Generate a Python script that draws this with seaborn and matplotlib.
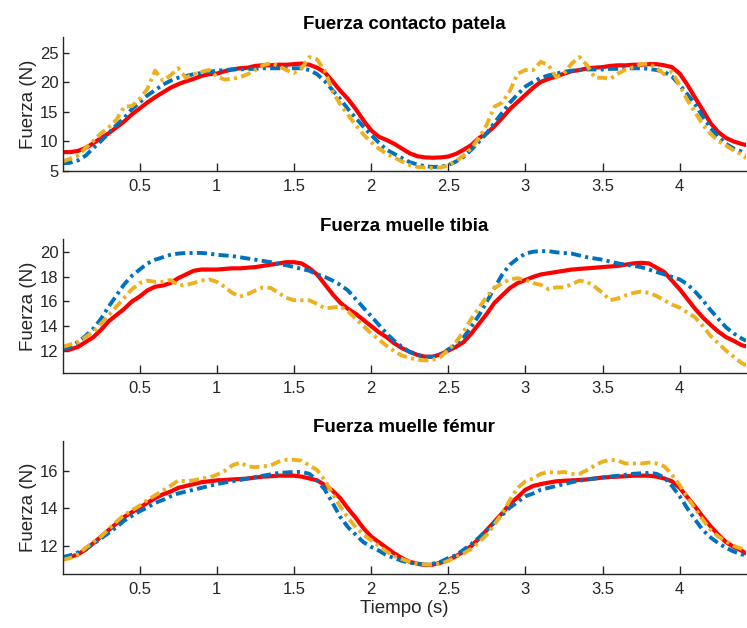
import numpy as np
import matplotlib
matplotlib.use("Agg")
import matplotlib.pyplot as plt
import seaborn as sns

# sample times (s)
time = np.append(np.arange(0, 4.401, 0.05), 4.43)

# --- Fuerza contacto patela ---
pat_red = [8.2, 8.2, 8.4, 8.9, 9.7, 10.6, 11.4, 12.4, 13.4, 14.6,
           15.6, 16.6, 17.5, 18.3, 19.1, 19.7, 20.2, 20.6, 21.1, 21.4,
           21.5, 21.9, 22.2, 22.4, 22.5, 22.8, 22.9, 22.9, 23.0, 23.0,
           23.1, 23.2, 23.0, 22.5, 21.7, 20.2, 18.6, 17.2, 15.5, 13.6,
           11.9, 10.8, 10.25, 9.6, 8.8, 8.0, 7.5, 7.3, 7.25, 7.3,
           7.45, 7.9, 8.6, 9.4, 10.6, 11.4, 12.6, 14.0, 15.5, 16.7,
           17.9, 19.1, 20.1, 20.6, 21.0, 21.5, 21.9, 22.1, 22.4, 22.5,
           22.6, 22.8, 22.9, 22.9, 23.0, 23.0, 23.1, 23.1, 22.9, 22.6,
           21.5, 19.6, 17.4, 15.3, 13.1, 11.6, 10.6, 10.0, 9.6,
           9.4]
pat_blue = [6.3, 6.4, 6.8, 7.6, 8.9, 10.1, 11.4, 12.8, 14.0, 15.5,
            16.6, 17.8, 18.7, 19.6, 20.3, 20.8, 21.1, 21.4, 21.6, 21.8,
            22.0, 22.1, 22.2, 22.2, 22.3, 22.3, 22.4, 22.4, 22.4, 22.4,
            22.4, 22.4, 22.1, 21.4, 20.2, 18.7, 17.2, 15.5, 14.0, 12.5,
            11.1, 9.8, 8.6, 7.9, 7.2, 6.5, 6.1, 5.8, 5.7, 5.7,
            6.0, 6.6, 7.4, 8.6, 10.0, 11.4, 13.2, 14.9, 16.6, 18.0,
            19.3, 20.1, 20.8, 21.2, 21.5, 21.8, 22.0, 22.1, 22.2, 22.2,
            22.2, 22.3, 22.3, 22.4, 22.4, 22.4, 22.3, 22.1, 21.8, 21.0,
            19.6, 18.0, 16.3, 14.2, 12.3, 10.8, 9.6, 8.8, 8.3,
            7.9]
pat_yel = [6.6, 7.1, 7.6, 8.9, 10.1, 11.4, 12.4, 13.7, 15.9, 16.0,
           17.2, 18.9, 22.0, 20.3, 21.2, 22.4, 20.8, 21.4, 21.8, 22.1,
           21.0, 20.5, 20.6, 20.9, 21.4, 22.1, 22.9, 23.3, 22.8, 22.1,
           21.6, 22.4, 24.3, 23.9, 22.0, 18.5, 16.3, 14.5, 12.8, 11.2,
           9.9, 8.8, 7.9, 7.3, 6.6, 6.0, 5.7, 5.6, 5.5, 5.6,
           5.9, 6.7, 7.6, 8.9, 10.6, 12.9, 15.9, 16.6, 18.6, 21.5,
           22.1, 22.1, 23.5, 22.9, 20.9, 21.5, 23.2, 24.3, 22.9, 20.8,
           20.8, 20.6, 21.5, 22.2, 22.6, 23.1, 23.2, 22.4, 21.4, 21.8,
           19.5, 17.0, 15.0, 12.8, 11.3, 10.1, 9.3, 8.5, 7.8,
           7.2]

# --- Fuerza muelle tibia ---
tib_red = [12.06, 12.1, 12.3, 12.7, 13.1, 13.7, 14.4, 14.9, 15.4, 16.0,
           16.4, 16.9, 17.2, 17.3, 17.5, 17.9, 18.2, 18.5, 18.6, 18.6,
           18.6, 18.65, 18.7, 18.7, 18.75, 18.8, 18.9, 19.0, 19.1, 19.2,
           19.2, 19.1, 18.7, 18.2, 17.4, 16.6, 15.9, 15.4, 15.0, 14.5,
           14.0, 13.5, 13.1, 12.6, 12.2, 11.9, 11.65, 11.5, 11.5, 11.7,
           12.0, 12.3, 12.7, 13.4, 14.2, 15.0, 15.9, 16.5, 17.1, 17.5,
           17.75, 18.0, 18.2, 18.3, 18.4, 18.5, 18.6, 18.65, 18.7, 18.75,
           18.8, 18.85, 18.9, 19.0, 19.1, 19.15, 19.1, 18.75, 18.4, 17.7,
           17.0, 16.2, 15.4, 14.7, 14.1, 13.55, 13.1, 12.8, 12.45,
           12.35]
tib_blue = [12.1, 12.3, 12.7, 13.2, 13.8, 14.6, 15.6, 16.5, 17.4, 18.1,
            18.6, 19.1, 19.4, 19.6, 19.8, 19.9, 19.95, 19.95, 19.95, 19.9,
            19.8, 19.75, 19.7, 19.6, 19.5, 19.4, 19.3, 19.2, 19.05, 18.95,
            18.8, 18.65, 18.5, 18.2, 18.0, 17.7, 17.35, 16.9, 16.2, 15.5,
            14.8, 14.1, 13.4, 12.8, 12.3, 11.9, 11.65, 11.5, 11.5, 11.7,
            12.1, 12.5, 13.1, 13.95, 14.9, 16.0, 17.1, 18.2, 19.0, 19.5,
            19.9, 20.05, 20.1, 20.1, 20.0, 19.95, 19.9, 19.75, 19.6, 19.5,
            19.4, 19.25, 19.1, 19.0, 18.9, 18.8, 18.6, 18.4, 18.2, 18.0,
            17.8, 17.4, 16.8, 16.1, 15.3, 14.6, 13.9, 13.4, 13.0,
            12.8]
tib_yel = [12.3, 12.5, 12.7, 13.1, 13.55, 14.2, 14.9, 15.6, 16.3, 17.0,
           17.5, 17.7, 17.6, 17.6, 17.75, 17.3, 17.35, 17.5, 17.7, 17.8,
           17.6, 17.2, 16.7, 16.4, 16.6, 16.9, 17.15, 17.1, 16.7, 16.3,
           16.1, 16.1, 16.1, 15.8, 15.45, 15.5, 15.6, 15.2, 14.6, 14.0,
           13.4, 12.9, 12.4, 11.95, 11.6, 11.4, 11.25, 11.2, 11.25, 11.5,
           12.05, 12.7, 13.55, 14.6, 15.5, 16.4, 17.1, 17.5, 17.8, 17.9,
           17.75, 17.5, 17.35, 17.0, 17.15, 17.15, 17.4, 17.7, 17.6, 17.2,
           16.7, 16.1, 16.25, 16.5, 16.7, 16.8, 16.7, 16.45, 16.1, 15.75,
           15.5, 15.1, 14.7, 14.0, 13.2, 12.6, 12.0, 11.5, 11.0,
           10.8]

# --- Fuerza muelle femur ---
fem_red = [11.35, 11.4, 11.55, 11.8, 12.15, 12.5, 12.85, 13.2, 13.55, 13.8,
           14.05, 14.3, 14.55, 14.75, 14.9, 15.1, 15.2, 15.3, 15.4, 15.45,
           15.5, 15.52, 15.55, 15.57, 15.6, 15.65, 15.7, 15.72, 15.75, 15.75,
           15.75, 15.7, 15.6, 15.5, 15.25, 14.95, 14.55, 14.0, 13.5, 12.95,
           12.5, 12.2, 11.9, 11.6, 11.35, 11.15, 11.05, 10.97, 11.0, 11.1,
           11.25, 11.45, 11.7, 12.0, 12.4, 12.85, 13.3, 13.75, 14.25, 14.6,
           15.0, 15.2, 15.3, 15.38, 15.45, 15.48, 15.5, 15.52, 15.55, 15.6,
           15.65, 15.68, 15.7, 15.72, 15.75, 15.75, 15.75, 15.7, 15.6, 15.45,
           15.1, 14.6, 14.1, 13.55, 13.05, 12.6, 12.2, 11.95, 11.75,
           11.6]
fem_blue = [11.4, 11.5, 11.65, 11.85, 12.1, 12.4, 12.7, 13.0, 13.35, 13.6,
            13.85, 14.05, 14.3, 14.45, 14.65, 14.8, 14.9, 15.0, 15.1, 15.2,
            15.3, 15.38, 15.45, 15.52, 15.6, 15.68, 15.75, 15.82, 15.9, 15.92,
            15.95, 15.95, 15.85, 15.5, 15.0, 14.3, 13.55, 13.0, 12.6, 12.2,
            11.95, 11.75, 11.5, 11.35, 11.2, 11.1, 11.05, 11.0, 11.05, 11.15,
            11.35, 11.5, 11.8, 12.1, 12.45, 12.85, 13.25, 13.65, 14.05, 14.35,
            14.65, 14.8, 15.0, 15.1, 15.2, 15.3, 15.4, 15.48, 15.55, 15.6,
            15.65, 15.7, 15.75, 15.8, 15.85, 15.88, 15.9, 15.85, 15.65, 15.2,
            14.65, 14.0, 13.4, 12.85, 12.45, 12.15, 11.9, 11.7, 11.55,
            11.5]
fem_yel = [11.25, 11.35, 11.55, 11.9, 12.2, 12.5, 12.9, 13.3, 13.65, 13.9,
           14.15, 14.45, 14.7, 14.95, 15.2, 15.5, 15.45, 15.5, 15.6, 15.65,
           15.8, 16.0, 16.3, 16.45, 16.25, 16.2, 16.25, 16.3, 16.5, 16.6,
           16.6, 16.55, 16.3, 16.05, 15.5, 14.8, 14.1, 13.5, 13.0, 12.6,
           12.3, 12.0, 11.7, 11.45, 11.3, 11.15, 11.05, 11.0, 11.0, 11.05,
           11.2, 11.4, 11.6, 11.85, 12.2, 12.6, 13.15, 13.75, 14.45, 15.1,
           15.45, 15.6, 15.85, 15.95, 15.9, 15.95, 15.85, 15.85, 16.05, 16.3,
           16.5, 16.6, 16.55, 16.4, 16.4, 16.4, 16.45, 16.4, 16.25, 15.8,
           15.25, 14.6, 14.0, 13.4, 12.85, 12.5, 12.25, 12.0, 11.85,
           11.7]

titles = ["Fuerza contacto patela", "Fuerza muelle tibia", "Fuerza muelle fémur"]
panels = [(pat_red, pat_blue, pat_yel),
          (tib_red, tib_blue, tib_yel),
          (fem_red, fem_blue, fem_yel)]
ylims = [(5, 27.7), (10.2, 21.06), (10.5, 17.62)]
yticks = [[5, 10, 15, 20, 25], [12, 14, 16, 18, 20], [12, 14, 16]]
xticks = [0.5, 1, 1.5, 2, 2.5, 3, 3.5, 4]

sns.set_style("ticks")
plt.rcParams["font.family"] = ["Liberation Sans", "DejaVu Sans"]
dark = "#262626"
dashdot = (0, (2.6, 1.1, 0.8, 1.1))

fig = plt.figure(figsize=(7.47, 6.28), dpi=100)
positions = [[0.0837, 0.7277, 0.915, 0.2134],
             [0.0837, 0.4065, 0.915, 0.2124],
             [0.0837, 0.0860, 0.915, 0.2123]]

for i, (red, blue, yel) in enumerate(panels):
    ax = fig.add_axes(positions[i])
    sns.lineplot(x=time, y=red, ax=ax, color="#FF0000", linewidth=3.0)
    sns.lineplot(x=time, y=blue, ax=ax, color="#0072BD", linewidth=2.8, linestyle=dashdot)
    sns.lineplot(x=time, y=yel, ax=ax, color="#EDB120", linewidth=2.8, linestyle=dashdot)
    ax.set_xlim(0, 4.43)
    ax.set_ylim(*ylims[i])
    ax.set_xticks(xticks)
    ax.set_xticklabels(["0.5", "1", "1.5", "2", "2.5", "3", "3.5", "4"])
    ax.set_yticks(yticks[i])
    ax.tick_params(axis="x", direction="in", length=5.5, width=1, colors=dark, labelsize=12, pad=6)
    ax.tick_params(axis="y", direction="in", length=4, width=1, colors=dark, labelsize=12, pad=3)
    for s in ["top", "right"]:
        ax.spines[s].set_visible(False)
    for s in ["left", "bottom"]:
        ax.spines[s].set_color(dark)
        ax.spines[s].set_linewidth(1.0)
    ax.set_title(titles[i], fontsize=13.5, fontweight="bold", color="black", pad=6)
    ax.set_ylabel("Fuerza (N)", fontsize=13.5, color=dark, labelpad=2)
    if i == 2:
        ax.set_xlabel("Tiempo (s)", fontsize=13.5, color=dark, labelpad=2)

fig.savefig("out.png", dpi=100)
